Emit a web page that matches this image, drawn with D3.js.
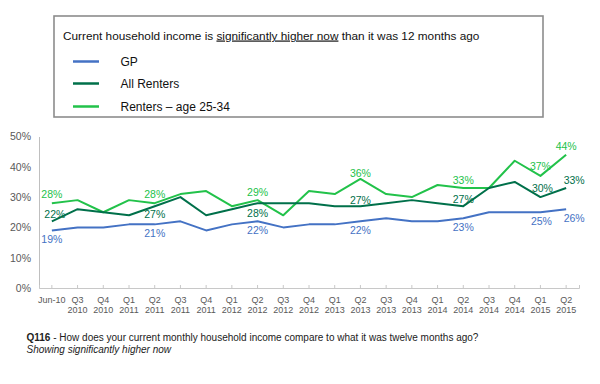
<!DOCTYPE html>
<html>
<head>
<meta charset="utf-8">
<script src="https://cdn.jsdelivr.net/npm/d3@7/dist/d3.min.js"></script>
<style>
  html, body { margin: 0; padding: 0; background: #fff; }
  svg { display: block; font-family: "Liberation Sans", Arial, sans-serif; }
</style>
</head>
<body>
<svg id="chart" width="600" height="384"></svg>
<script>
// ---- data ----
const categories = ["Jun-10","Q3 2010","Q4 2010","Q1 2011","Q2 2011","Q3 2011","Q4 2011",
  "Q1 2012","Q2 2012","Q3 2012","Q4 2012","Q1 2013","Q2 2013","Q3 2013","Q4 2013",
  "Q1 2014","Q2 2014","Q3 2014","Q4 2014","Q1 2015","Q2 2015"];
const seriesNames = ["GP", "All Renters", "Renters \u2013 age 25-34"];
const gpValues = [19,20,20,21,21,22,19,21,22,20,21,21,22,23,22,22,23,25,25,25,26];
const allRentersValues = [22,26,25,24,27,30,24,26,28,28,28,27,27,28,29,28,27,33,35,30,33];
const renters2534Values = [28,29,25,29,28,31,32,27,29,24,32,31,36,31,30,34,33,33,42,37,44];
const labelledIndices = [0,4,8,12,16,19,20];
const yTickValues = [0,10,20,30,40,50];
const titleParts = ["Current household income is ", "significantly higher now", " than it was 12 months ago"];
const footnoteLine1 = ["Q116", " - How does your current monthly household income compare to what it was twelve months ago?"];
const footnoteLine2 = "Showing significantly higher now";

// ---- styles ----
const colors = ["#4472C4", "#00704A", "#22C24A"];
// label vertical offsets (center relative to point) per series, per labelled index
const labelDy = [
  [9,9,9,9,9,9,9],
  [-7,8,10,-6,-7,-9,-8],
  [-9,-9,-8,-6,-8,-10,-8]
];
const labelDx = [
  [0,0,0,0,0,1,8],
  [3,0,0,0,0,2,8],
  [0,0,0,0,0,0,0]
];

const svg = d3.select("#chart");

const x = d3.scaleBand().domain(categories).range([39, 579]).padding(0);
const y = d3.scaleLinear().domain([0, 50]).range([288, 136.5]);
const cx = d => x(d) + x.bandwidth() / 2;

// ---- legend box ----
svg.append("rect").attr("x", 54).attr("y", 16).attr("width", 489).attr("height", 101)
  .attr("fill", "none").attr("stroke", "#8c8c8c").attr("stroke-width", 1.6);

const title = svg.append("text").attr("x", 63).attr("y", 39.5)
  .attr("font-size", 11.8).attr("fill", "#111");
titleParts.forEach((t, i) => {
  const ts = title.append("tspan").text(t);
  if (i === 1) ts.attr("text-decoration", "underline");
});

const legendY = [61.5, 83.5, 106.5];
seriesNames.forEach((name, i) => {
  svg.append("line").attr("x1", 73).attr("x2", 99).attr("y1", legendY[i]).attr("y2", legendY[i])
    .attr("stroke", colors[i]).attr("stroke-width", 2.5);
  svg.append("text").attr("x", 120.5).attr("y", legendY[i]).attr("dy", "0.35em")
    .attr("font-size", 12).attr("fill", "#111").text(name);
});

// ---- axes ----
const yAxis = d3.axisLeft(y).tickValues(yTickValues).tickSize(0).tickPadding(8)
  .tickFormat(d => d + "%");
const gy = svg.append("g").attr("transform", "translate(39,0)").call(yAxis);
gy.select(".domain").attr("stroke", "#bfbfbf").attr("stroke-width", 1);
gy.selectAll("text").attr("font-size", 10.5).attr("fill", "#595959")
  .attr("font-family", "Liberation Sans, Arial, sans-serif");

const xAxis = d3.axisBottom(x).tickSize(-3).tickSizeOuter(-3).tickFormat("");
const gx = svg.append("g").attr("transform", "translate(0,288)").call(xAxis);
gx.select(".domain").attr("stroke", "#c8c8c8").attr("stroke-width", 1);
gx.selectAll(".tick line").attr("stroke", "#c8c8c8");

// x tick labels (two lines)
const xl = svg.append("g");
categories.forEach(c => {
  const parts = c.split(" ");
  const t = xl.append("text").attr("x", cx(c)).attr("y", 300)
    .attr("text-anchor", "middle").attr("font-size", 9).attr("fill", "#595959");
  parts.forEach((p, i) => {
    t.append("tspan").attr("x", cx(c)).attr("dy", i === 0 ? "0.35em" : "1.1em").text(p);
  });
});

// ---- lines ----
const seriesValues = [gpValues, allRentersValues, renters2534Values];
const line = d3.line().x((d, i) => cx(categories[i])).y(d => y(d));

// draw order: GP, renters 25-34, all renters on top
[0, 2, 1].forEach(s => {
  svg.append("path").datum(seriesValues[s]).attr("d", line)
    .attr("fill", "none").attr("stroke", colors[s]).attr("stroke-width", 2)
    .attr("stroke-linejoin", "round");
});

// ---- data labels ----
seriesValues.forEach((vals, s) => {
  labelledIndices.forEach((idx, k) => {
    svg.append("text")
      .attr("x", cx(categories[idx]) + labelDx[s][k])
      .attr("y", y(vals[idx]) + labelDy[s][k])
      .attr("dy", "0.35em").attr("text-anchor", "middle")
      .attr("font-size", 10.5).attr("fill", colors[s])
      .text(vals[idx] + "%");
  });
});

// ---- footnote ----
const f1 = svg.append("text").attr("x", 26.5).attr("y", 337).attr("dy", "0.35em")
  .attr("font-size", 10).attr("fill", "#222");
f1.append("tspan").attr("font-weight", "bold").text(footnoteLine1[0]);
f1.append("tspan").text(footnoteLine1[1]);
svg.append("text").attr("x", 26.5).attr("y", 349.5).attr("dy", "0.35em")
  .attr("font-size", 10).attr("font-style", "italic").attr("fill", "#222").text(footnoteLine2);
</script>
</body>
</html>
